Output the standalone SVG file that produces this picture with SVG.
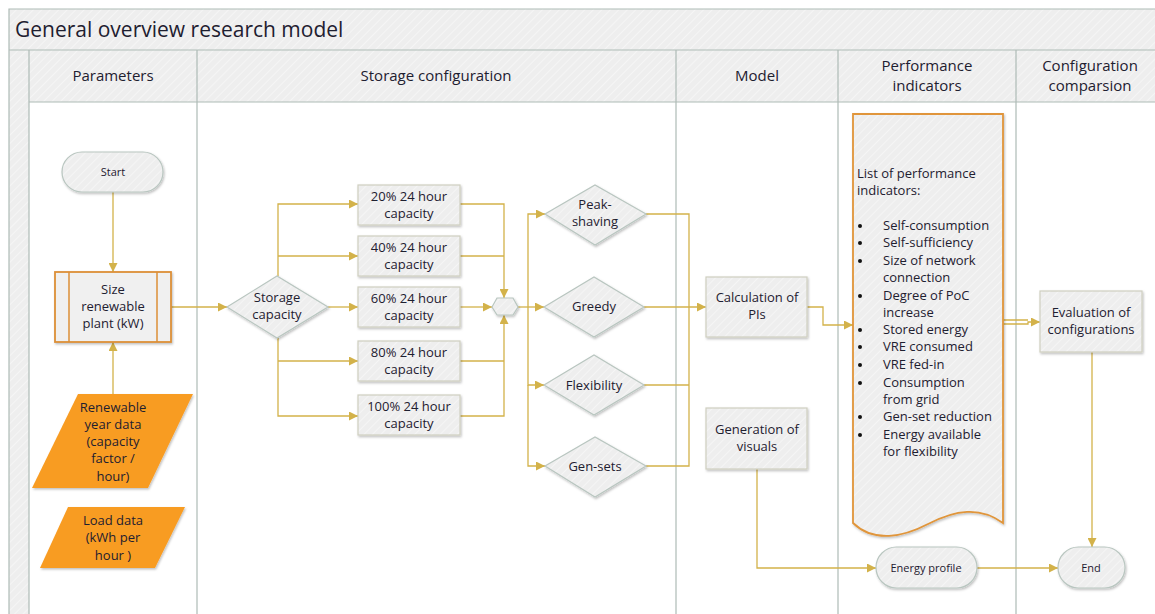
<svg xmlns="http://www.w3.org/2000/svg" width="1155" height="614" viewBox="0 0 1155 614">
  <defs>
    <pattern id="hatch" width="6" height="6" patternUnits="userSpaceOnUse" patternTransform="rotate(45)">
      <rect width="6" height="6" fill="#eeeeee"/>
      <line x1="0" y1="0" x2="0" y2="6" stroke="#f5f5f5" stroke-width="2"/>
    </pattern>
    <filter id="shadow" x="-10%" y="-10%" width="130%" height="140%">
      <feDropShadow dx="1" dy="1.5" stdDeviation="1" flood-color="#000" flood-opacity="0.25"/>
    </filter>
    <marker id="arrow" viewBox="0 0 10 10" refX="10" refY="5" markerWidth="9" markerHeight="9" markerUnits="userSpaceOnUse" orient="auto">
      <path d="M0,0 L10,5 L0,10 Z" fill="#d3b24a"/>
    </marker>
    <style>
      text { font-family: "Open Sans", "Noto Sans", "DejaVu Sans", sans-serif; fill: #1e2030; }
      .title { font-size: 21px; }
      .head { font-size: 15px; text-anchor: middle; }
      .lbl { font-size: 13px; text-anchor: middle; }
      .small { font-size: 11px; text-anchor: middle; }
      .list { font-size: 13px; }
      .lane { fill: none; stroke: #aebbb6; stroke-width: 1.2; }
      .box { fill: url(#hatch); stroke: #cfcfc0; stroke-width: 1.2; filter: url(#shadow); }
      .dia { fill: url(#hatch); stroke: #b9c6c0; stroke-width: 1.2; filter: url(#shadow); }
      .pill { fill: url(#hatch); stroke: #b9c6c0; stroke-width: 1.2; filter: url(#shadow); }
      .data { fill: #f89c24; stroke: none; filter: url(#shadow); }
      .conn { fill: none; stroke: #d3b24a; stroke-width: 1.3; }
    </style>
  </defs>

  <rect width="1155" height="614" fill="#ffffff"/>

  <!-- swimlane frame -->
  <g id="frame">
    <rect x="9" y="9" width="1150" height="41" fill="url(#hatch)"/>
    <rect x="9" y="50" width="20" height="570" fill="url(#hatch)"/>
    <rect x="29" y="50" width="1130" height="52" fill="url(#hatch)"/>
    <path class="lane" d="M9,620 V9 H1160 M9,50 H1160 M29,102 H1160 M29,50 V620 M197,50 V620 M676,50 V620 M838,50 V620 M1016,50 V620"/>
    <text class="title" x="15" y="37">General overview research model</text>
    <text class="head" x="113" y="81">Parameters</text>
    <text class="head" x="436" y="81">Storage configuration</text>
    <text class="head" x="757" y="81">Model</text>
    <text class="head" x="927" y="71">Performance</text>
    <text class="head" x="927" y="91">indicators</text>
    <text class="head" x="1090" y="71">Configuration</text>
    <text class="head" x="1090" y="91">comparsion</text>
  </g>

  <!-- connectors -->
  <g id="connectors">
    <path class="conn" d="M113,192 V272" marker-end="url(#arrow)"/>
    <path class="conn" d="M113,394 V342" marker-end="url(#arrow)"/>
    <path class="conn" d="M171,307 H227" marker-end="url(#arrow)"/>
    <!-- fan-out to storage options -->
    <path class="conn" d="M278,276 V204 H358" marker-end="url(#arrow)"/>
    <path class="conn" d="M278,256 H358" marker-end="url(#arrow)"/>
    <path class="conn" d="M328,307 H358" marker-end="url(#arrow)"/>
    <path class="conn" d="M278,338 V416 H358" marker-end="url(#arrow)"/>
    <path class="conn" d="M278,361 H358" marker-end="url(#arrow)"/>
    <!-- merge -->
    <path class="conn" d="M460,204 H504 V298" marker-end="url(#arrow)"/>
    <path class="conn" d="M460,256 H504"/>
    <path class="conn" d="M460,307 H492" marker-end="url(#arrow)"/>
    <path class="conn" d="M460,361 H504"/>
    <path class="conn" d="M460,416 H504 V315" marker-end="url(#arrow)"/>
    <!-- fan-out to strategies -->
    <path class="conn" d="M518,307 H544" marker-end="url(#arrow)"/>
    <path class="conn" d="M528,307 V214 H545" marker-end="url(#arrow)"/>
    <path class="conn" d="M528,307 V385 H544" marker-end="url(#arrow)"/>
    <path class="conn" d="M528,385 V466 H545" marker-end="url(#arrow)"/>
    <!-- strategies to model -->
    <path class="conn" d="M646,214 H689 V466 H646"/>
    <path class="conn" d="M644,385 H689"/>
    <path class="conn" d="M644,307 H706" marker-end="url(#arrow)"/>
    <!-- model outputs -->
    <path class="conn" d="M807,307 H823 V325 H853" marker-end="url(#arrow)"/>
    <path class="conn" d="M757,469 V568 H876" marker-end="url(#arrow)"/>
    <path class="conn" d="M1003,320 H1028 M1003,324 H1028 V322 H1040" marker-end="url(#arrow)"/>
    <path class="conn" d="M1092,352 V547" marker-end="url(#arrow)"/>
    <path class="conn" d="M977,568 H1058" marker-end="url(#arrow)"/>
  </g>

  <!-- parameters -->
  <g id="start">
    <rect class="pill" x="62" y="152" width="101" height="40" rx="20"/>
    <text class="small" x="113" y="176">Start</text>
  </g>
  <g id="size-plant">
    <rect x="55" y="272" width="116" height="70" fill="#f0f0f0" stroke="#dc8f37" stroke-width="1.8" filter="url(#shadow)"/>
    <path d="M69,272 V342 M157,272 V342" stroke="#dc8f37" stroke-width="1.5"/>
    <text class="lbl" x="113" y="294">Size</text>
    <text class="lbl" x="113" y="311">renewable</text>
    <text class="lbl" x="113" y="328">plant (kW)</text>
  </g>
  <g id="renewable-data">
    <polygon class="data" points="78,394 193,394 148,488 32,488"/>
    <text class="lbl" x="113" y="412">Renewable</text>
    <text class="lbl" x="113" y="429">year data</text>
    <text class="lbl" x="113" y="446">(capacity</text>
    <text class="lbl" x="113" y="463">factor /</text>
    <text class="lbl" x="113" y="481">hour)</text>
  </g>
  <g id="load-data">
    <polygon class="data" points="68,507 185,507 155,568 40,568"/>
    <text class="lbl" x="113" y="525">Load data</text>
    <text class="lbl" x="113" y="542">(kWh per</text>
    <text class="lbl" x="113" y="560">hour )</text>
  </g>

  <!-- storage configuration -->
  <g id="storage-capacity">
    <polygon class="dia" points="227,307 277,276 328,307 277,338"/>
    <text class="lbl" x="277" y="302">Storage</text>
    <text class="lbl" x="277" y="319">capacity</text>
  </g>
  <g id="cap-20">
    <rect class="box" x="358" y="185" width="102" height="40"/>
    <text class="lbl" x="409" y="201">20% 24 hour</text>
    <text class="lbl" x="409" y="218">capacity</text>
  </g>
  <g id="cap-40">
    <rect class="box" x="358" y="236" width="102" height="40"/>
    <text class="lbl" x="409" y="252">40% 24 hour</text>
    <text class="lbl" x="409" y="269">capacity</text>
  </g>
  <g id="cap-60">
    <rect class="box" x="358" y="287" width="102" height="40"/>
    <text class="lbl" x="409" y="303">60% 24 hour</text>
    <text class="lbl" x="409" y="320">capacity</text>
  </g>
  <g id="cap-80">
    <rect class="box" x="358" y="341" width="102" height="40"/>
    <text class="lbl" x="409" y="357">80% 24 hour</text>
    <text class="lbl" x="409" y="374">capacity</text>
  </g>
  <g id="cap-100">
    <rect class="box" x="358" y="395" width="102" height="40"/>
    <text class="lbl" x="409" y="411">100% 24 hour</text>
    <text class="lbl" x="409" y="428">capacity</text>
  </g>
  <g id="merge">
    <polygon class="dia" points="492,307 497,298 513,298 518,307 513,315 497,315"/>
  </g>
  <g id="peak-shaving">
    <polygon class="dia" points="545,214 595,185 646,214 595,245"/>
    <text class="lbl" x="595" y="209">Peak-</text>
    <text class="lbl" x="595" y="226">shaving</text>
  </g>
  <g id="greedy">
    <polygon class="dia" points="544,307 594,277 644,307 594,337"/>
    <text class="lbl" x="594" y="311">Greedy</text>
  </g>
  <g id="flexibility">
    <polygon class="dia" points="544,385 594,355 644,385 594,415"/>
    <text class="lbl" x="594" y="390">Flexibility</text>
  </g>
  <g id="gen-sets">
    <polygon class="dia" points="545,466 595,437 646,466 595,497"/>
    <text class="lbl" x="595" y="471">Gen-sets</text>
  </g>

  <!-- model -->
  <g id="calculation">
    <rect class="box" x="706" y="277" width="101" height="60"/>
    <text class="lbl" x="757" y="302">Calculation of</text>
    <text class="lbl" x="757" y="319">PIs</text>
  </g>
  <g id="visuals">
    <rect class="box" x="706" y="408" width="101" height="61"/>
    <text class="lbl" x="757" y="434">Generation of</text>
    <text class="lbl" x="757" y="451">visuals</text>
  </g>

  <!-- performance indicators -->
  <g id="pi-list">
    <path d="M853,114 H1003 V523 C980,506 955,510 928,524 C903,537 874,543 853,523 Z" fill="url(#hatch)" stroke="#e0953a" stroke-width="1.8" filter="url(#shadow)"/>
    <text class="list" x="857" y="178">List of performance</text>
    <text class="list" x="857" y="195">indicators:</text>
    <g fill="#111">
      <circle cx="860" cy="226" r="2"/>
      <circle cx="860" cy="243" r="2"/>
      <circle cx="860" cy="261" r="2"/>
      <circle cx="860" cy="296" r="2"/>
      <circle cx="860" cy="330" r="2"/>
      <circle cx="860" cy="347" r="2"/>
      <circle cx="860" cy="365" r="2"/>
      <circle cx="860" cy="383" r="2"/>
      <circle cx="860" cy="417" r="2"/>
      <circle cx="860" cy="435" r="2"/>
    </g>
    <text class="list" x="883" y="230">Self-consumption</text>
    <text class="list" x="883" y="247">Self-sufficiency</text>
    <text class="list" x="883" y="265">Size of network</text>
    <text class="list" x="883" y="282">connection</text>
    <text class="list" x="883" y="300">Degree of PoC</text>
    <text class="list" x="883" y="317">increase</text>
    <text class="list" x="883" y="334">Stored energy</text>
    <text class="list" x="883" y="351">VRE consumed</text>
    <text class="list" x="883" y="369">VRE fed-in</text>
    <text class="list" x="883" y="387">Consumption</text>
    <text class="list" x="883" y="404">from grid</text>
    <text class="list" x="883" y="421">Gen-set reduction</text>
    <text class="list" x="883" y="439">Energy available</text>
    <text class="list" x="883" y="456">for flexibility</text>
  </g>
  <g id="energy-profile">
    <rect class="pill" x="876" y="547" width="101" height="41" rx="20.5"/>
    <text class="small" x="926" y="572">Energy profile</text>
  </g>

  <!-- configuration comparison -->
  <g id="evaluation">
    <rect class="box" x="1040" y="291" width="102" height="61"/>
    <text class="lbl" x="1091" y="317">Evaluation of</text>
    <text class="lbl" x="1091" y="334">configurations</text>
  </g>
  <g id="end">
    <rect class="pill" x="1058" y="547" width="67" height="41" rx="20.5"/>
    <text class="small" x="1091" y="572">End</text>
  </g>
</svg>
